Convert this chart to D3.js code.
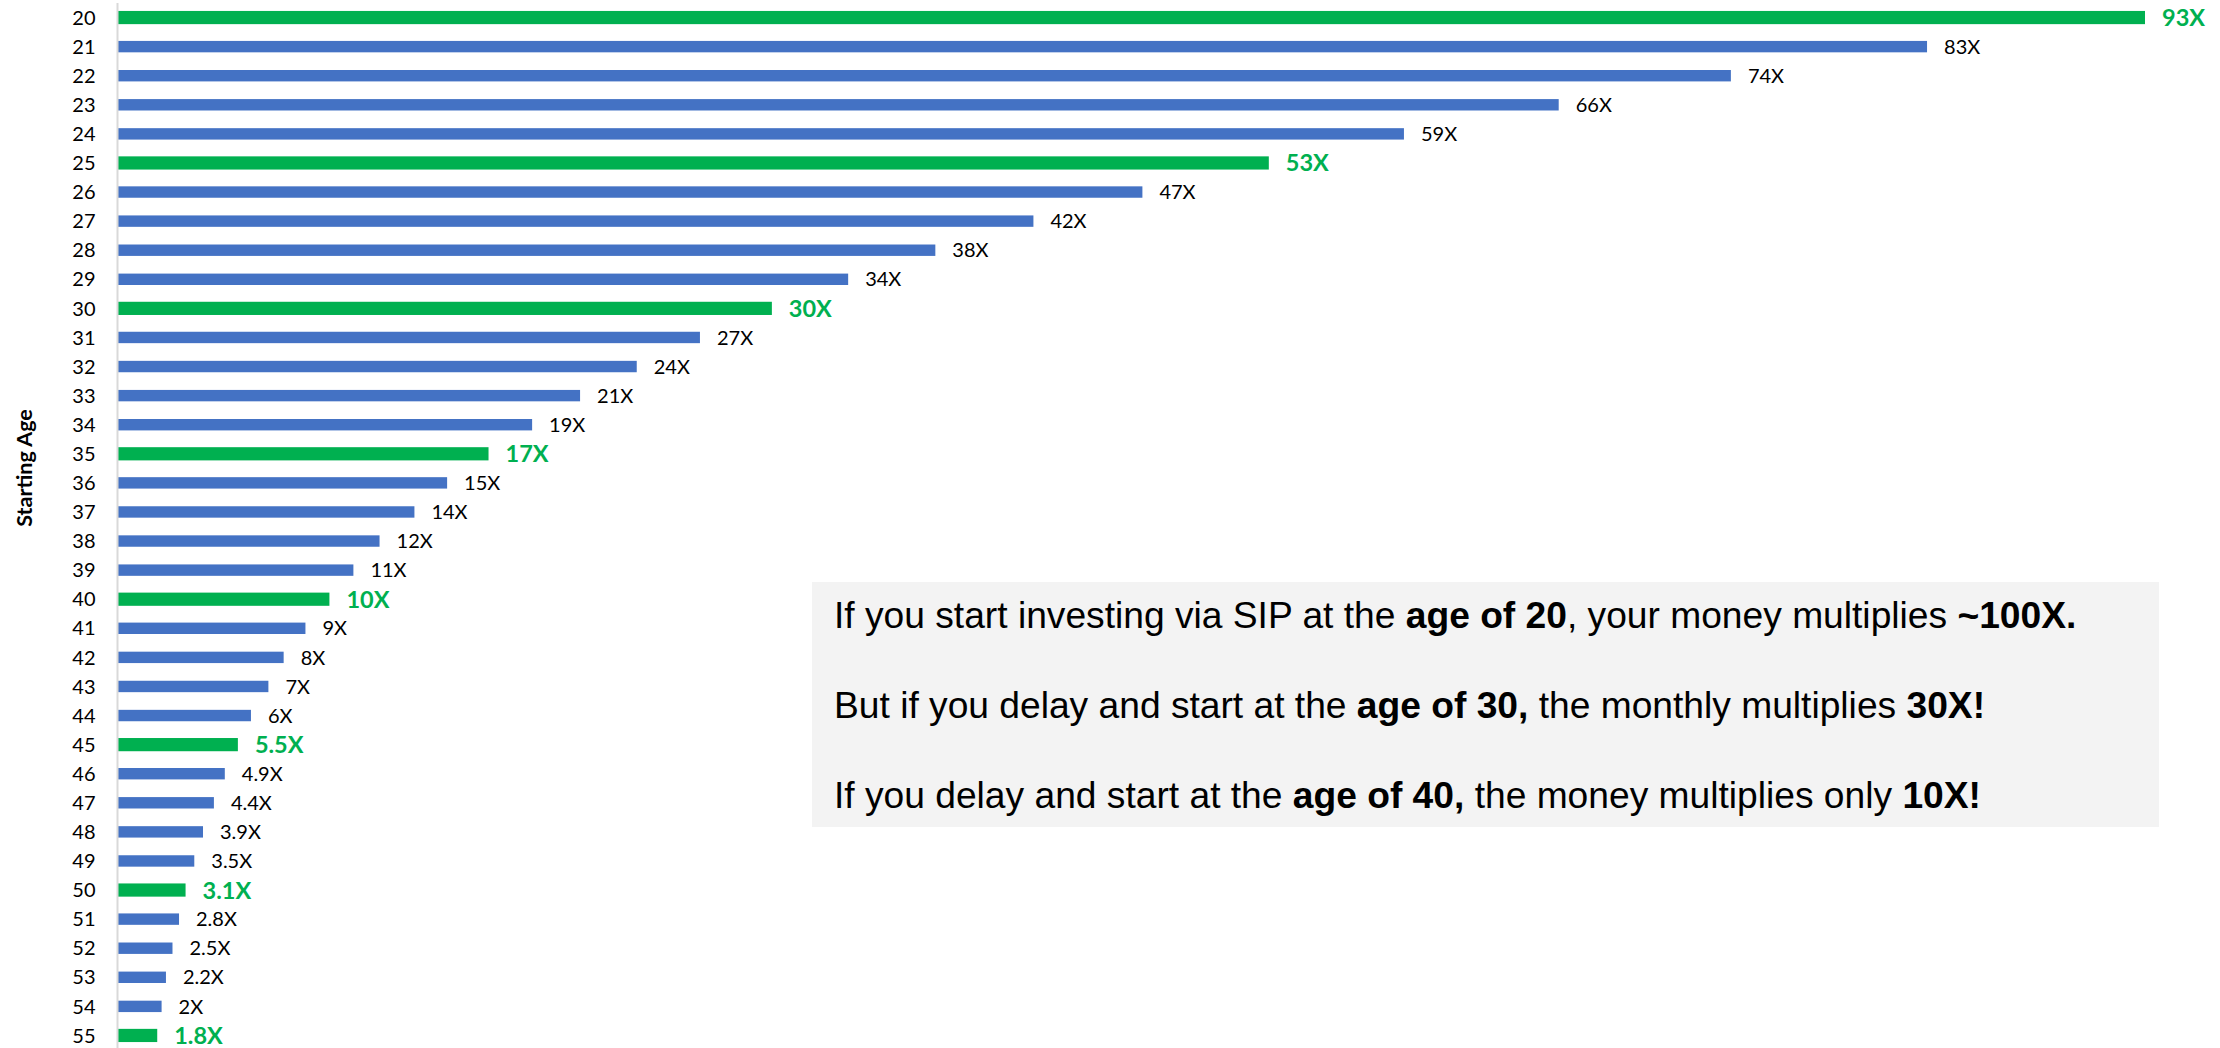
<!DOCTYPE html>
<html>
<head>
<meta charset="utf-8">
<script src="https://cdn.jsdelivr.net/npm/d3@7"></script>
<style>
  html, body { margin: 0; padding: 0; background: #fff; }
  svg { display: block; }
</style>
</head>
<body>
<svg id="chart" width="2220" height="1048"></svg>
<script>
// ---- data ----
const ages = [20,21,22,23,24,25,26,27,28,29,30,31,32,33,34,35,36,37,38,39,40,41,42,43,44,45,46,47,48,49,50,51,52,53,54,55];
const multiples = [93,83,74,66.1,59,52.8,47,42,37.5,33.5,30,26.7,23.8,21.2,19,17,15.1,13.6,12,10.8,9.7,8.6,7.6,6.9,6.1,5.5,4.9,4.4,3.9,3.5,3.1,2.8,2.5,2.2,2,1.8];
const labels = ["93X","83X","74X","66X","59X","53X","47X","42X","38X","34X","30X","27X","24X","21X","19X","17X","15X","14X","12X","11X","10X","9X","8X","7X","6X","5.5X","4.9X","4.4X","3.9X","3.5X","3.1X","2.8X","2.5X","2.2X","2X","1.8X"];
const highlightAges = [20,25,30,35,40,45,50,55];
const axisTitle = "Starting Age";
const noteLines = [
  [["If you start investing via SIP at the ", false], ["age of 20", true], [", your money multiplies ", false], ["~100X.", true]],
  [["But if you delay and start at the ", false], ["age of 30,", true], [" the monthly multiplies ", false], ["30X!", true]],
  [["If you delay and start at the ", false], ["age of 40,", true], [" the money multiplies only ", false], ["10X!", true]]
];

const BLUE = "#4472c4", GREEN = "#00b050";
const svg = d3.select("#chart");

const x = d3.scaleLinear().domain([0, 93]).range([118, 2145]);
const y = d3.scaleBand().domain(ages).range([3, 1050]).paddingInner(0).paddingOuter(0);

const isHi = a => highlightAges.includes(a);

// bars
const data = ages.map((a, i) => ({ age: a, v: multiples[i], label: labels[i] }));
svg.append("g").selectAll("rect").data(data).join("rect")
  .attr("x", x(0))
  .attr("y", d => y(d.age) + y.bandwidth() / 2 - (isHi(d.age) ? 6.6 : 5.7))
  .attr("width", d => x(d.v) - x(0))
  .attr("height", d => isHi(d.age) ? 13.2 : 11.4)
  .attr("fill", d => isHi(d.age) ? GREEN : BLUE);

// axis
const yAxis = d3.axisLeft(y).tickSize(0).tickPadding(22);
const gy = svg.append("g").attr("transform", `translate(${x(0) - 0.5},0)`).call(yAxis);
gy.select(".domain").attr("stroke", "#d9d9d9").attr("stroke-width", 2).attr("d", "M0,3V1048");
gy.selectAll(".tick text")
  .attr("font-family", "Lato, 'Open Sans', sans-serif")
  .attr("font-size", 20)
  .attr("fill", "#000")
  .attr("dy", "0.36em");

// axis title
svg.append("text")
  .attr("transform", `translate(32,468) rotate(-90)`)
  .attr("text-anchor", "middle")
  .attr("font-family", "Lato, 'Open Sans', sans-serif")
  .attr("font-weight", "bold")
  .attr("font-size", 21.5)
  .attr("fill", "#000")
  .text(axisTitle);

// data labels
svg.append("g").selectAll("text").data(data).join("text")
  .attr("x", d => x(d.v) + 17)
  .attr("y", d => y(d.age) + y.bandwidth() / 2)
  .attr("dy", "0.36em")
  .attr("font-family", "Lato, 'Open Sans', sans-serif")
  .attr("font-size", d => isHi(d.age) ? 23.5 : 20)
  .attr("font-weight", d => isHi(d.age) ? "bold" : "normal")
  .attr("fill", d => isHi(d.age) ? GREEN : "#000")
  .text(d => d.label);

// note box
svg.append("rect").attr("x", 812).attr("y", 582).attr("width", 1347).attr("height", 245).attr("fill", "#f3f3f3");
const baselines = [628, 718, 808];
const textX = 834;
let lineNodes = [];
noteLines.forEach((segs, i) => {
  const t = svg.append("text")
    .attr("x", 0).attr("y", 0)
    .attr("font-family", "'Liberation Sans', Arial, sans-serif")
    .attr("font-size", 37.5)
    .attr("fill", "#000");
  segs.forEach(([s, b]) => t.append("tspan").attr("font-weight", b ? "bold" : "normal").text(s));
  lineNodes.push(t);
});
const w0 = lineNodes[0].node().getComputedTextLength();
const sx = 1243 / w0;
lineNodes.forEach((t, i) => t.attr("transform", `translate(${textX},${baselines[i]}) scale(${sx},1)`));
</script>
</body>
</html>
